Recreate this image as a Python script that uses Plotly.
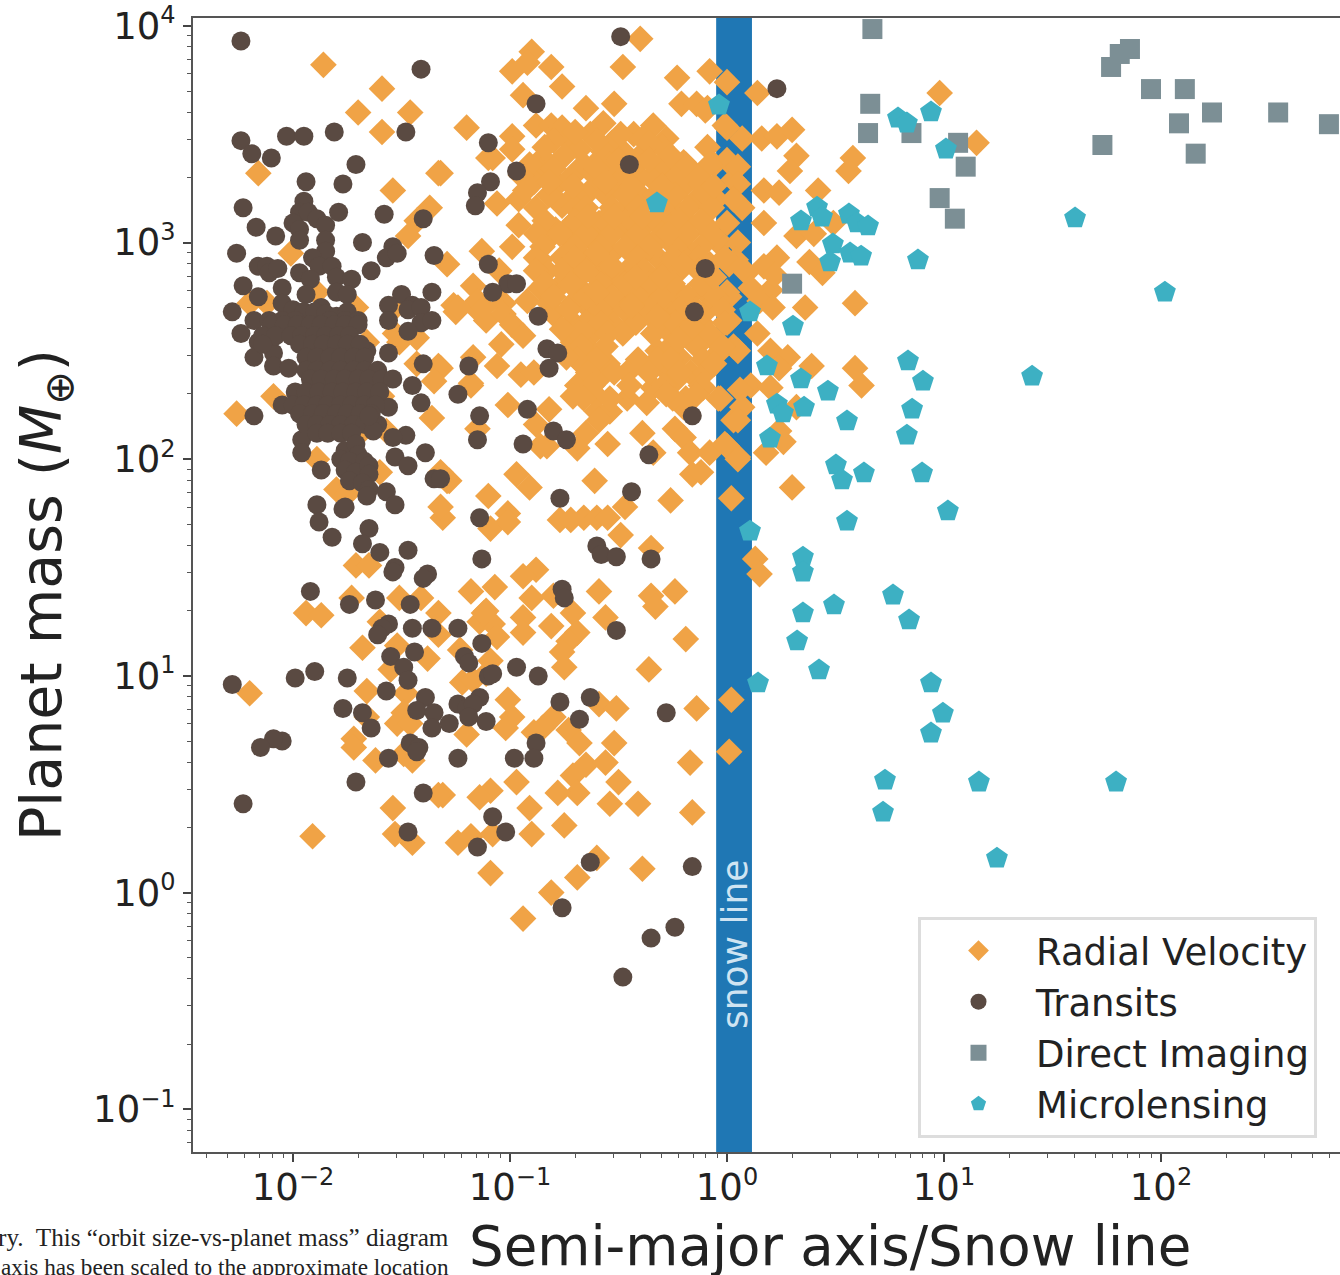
import plotly.graph_objects as go

# All values are log10(semi-major axis / snow line), log10(planet mass).
direct_imaging = [(0.67,3.985),(0.66,3.64),(0.65,3.505),(0.85,3.505),(1.065,3.46),(1.10,3.35),(0.98,3.205),(1.05,3.11),
 (0.30,2.81),(1.73,3.45),(1.77,3.81),(1.81,3.87),(1.857,3.893),(1.954,3.708),(2.11,3.708),(2.083,3.55),(2.235,3.60),
 (2.16,3.41),(2.54,3.60),(2.774,3.546)]

microlensing = [(-0.037,3.634),(0.788,3.574),(0.829,3.551),(0.94,3.602),(1.009,3.431),(0.415,3.163),(0.438,3.117),(0.341,3.099),
 (0.562,3.131),(0.599,3.09),(0.65,3.076),(0.488,2.993),(0.475,2.91),(0.567,2.951),(0.618,2.937),(0.88,2.919),(0.106,2.679),
 (-0.323,3.182),(1.604,3.113),(2.018,2.771),(1.406,2.383),(0.304,2.614),(0.834,2.453),(0.903,2.36),(0.184,2.43),(0.341,2.37),
 (0.465,2.314),(0.23,2.254),(0.258,2.213),(0.355,2.24),(0.853,2.231),(0.553,2.176),(0.829,2.111),(0.198,2.097),(0.502,1.973),
 (0.53,1.904),(0.631,1.936),(0.899,1.936),(1.018,1.761),(0.553,1.714),(0.106,1.668),(0.35,1.548),(0.35,1.479),(0.765,1.373),
 (0.493,1.327),(0.35,1.29),(0.839,1.258),(0.323,1.161),(0.424,1.027),(0.143,0.967),(0.94,0.967),(0.995,0.828),(0.94,0.736),
 (0.728,0.519),(1.161,0.51),(1.793,0.51),(0.719,0.371),(1.244,0.159)]

transits = [(-2.24,3.93),(-1.41,3.80),(-1.81,3.51),(-2.03,3.49),(-1.95,3.49),(-2.24,3.47),(-1.48,3.51),(-2.19,3.41),(-2.10,3.39),
 (-1.71,3.36),(-1.94,3.28),(-1.77,3.27),(-2.23,3.16),(-1.95,3.19),(-1.79,3.14),(-1.58,3.13),(-1.40,3.11),(-2.17,3.07),(-1.97,3.14),
 (-2.00,3.09),(-1.93,3.14),(-1.89,3.11),(-1.85,3.08),(-1.97,3.06),(-1.97,3.01),(-2.08,3.03),(-1.68,3.00),(-1.85,3.01),(-1.85,2.96),
 (-2.26,2.95),(-1.54,2.98),(-1.57,2.93),(-1.52,2.95),(-1.35,2.94),(-2.16,2.89),(-2.12,2.89),(-2.11,2.86),(-2.07,2.88),(-1.97,2.86),
 (-1.91,2.93),(-1.88,2.89),(-1.82,2.89),(-1.80,2.84),(-1.92,2.83),(-1.64,2.87),(-1.73,2.83),(-2.23,2.80),(-2.05,2.79),(-2.16,2.75),
 (-1.94,2.76),(-1.80,2.77),(-1.75,2.76),(-1.50,2.76),(-1.36,2.77),(-1.56,2.71),(-1.45,2.71),(-1.87,2.70),(-2.28,2.68),(-2.05,2.72),
 (-2.18,2.64),(-2.24,2.58),(-2.16,2.54),(-2.18,2.47),(-2.09,2.49),(-2.09,2.43),(-2.02,2.42),(-1.56,2.64),(-1.47,2.69),(-1.41,2.70),
 (-1.41,2.63),(-1.36,2.64),(-1.47,2.59),(-1.66,2.50),(-1.56,2.49),(-1.40,2.44),(-1.19,2.43),(-1.45,2.34),(-1.24,2.30),(-1.56,2.24),
 (-1.41,2.26),(-2.05,2.25),(-2.18,2.20),(-1.14,2.20),(-1.15,2.09),(-1.48,2.11),(-1.54,2.10),(-1.39,2.03),(-1.53,2.01),(-1.47,1.97),
 (-1.35,1.91),(-1.87,1.95),(-1.96,2.09),(-1.96,2.03),(-1.14,1.73),(-1.13,1.54),(-1.89,1.79),(-1.77,1.77),(-1.76,1.78),(-1.88,1.71),
 (-1.82,1.64),(-1.65,1.68),(-1.68,1.61),(-1.60,1.57),(-1.47,1.58),(-1.53,1.50),(-1.54,1.48),(-1.38,1.47),(-1.40,1.45),(-1.92,1.39),
 (-2.00,2.69),(-1.95,2.68),(-1.90,2.68),(-1.85,2.67),(-1.80,2.66),(-1.75,2.68),(-2.07,2.60),(-2.00,2.60),(-1.93,2.60),(-1.86,2.60),
 (-2.11,2.64),(-2.05,2.64),(-1.99,2.64),(-1.83,2.64),(-1.76,2.64),(-1.70,2.64),
 (-2.10,2.62),(-2.04,2.62),(-1.98,2.62),(-1.92,2.62),(-1.87,2.62),(-1.81,2.62),(-1.76,2.62),(-1.70,2.62),
 (-2.14,2.57),(-2.08,2.57),(-2.01,2.57),(-1.96,2.57),(-1.90,2.57),(-1.85,2.57),(-1.79,2.57),(-1.74,2.57),
 (-2.14,2.53),(-1.97,2.53),(-1.91,2.53),(-1.86,2.53),(-1.80,2.53),(-1.75,2.53),(-1.69,2.53),
 (-1.94,2.47),(-1.89,2.47),(-1.83,2.47),(-1.78,2.47),(-1.72,2.47),(-1.67,2.47),
 (-1.94,2.41),(-1.89,2.41),(-1.83,2.41),(-1.78,2.41),(-1.72,2.41),(-1.67,2.41),(-1.61,2.41),
 (-1.92,2.37),(-1.87,2.37),(-1.81,2.37),(-1.76,2.37),(-1.70,2.37),(-1.65,2.37),(-1.59,2.37),(-1.54,2.37),
 (-1.99,2.31),(-1.94,2.31),(-1.88,2.31),(-1.82,2.31),(-1.77,2.31),(-1.71,2.31),(-1.66,2.31),(-1.60,2.31),
 (-2.00,2.25),(-1.95,2.25),(-1.89,2.25),(-1.84,2.25),(-1.78,2.25),(-1.73,2.25),(-1.67,2.25),(-1.62,2.25),
 (-1.97,2.21),(-1.91,2.21),(-1.86,2.21),(-1.80,2.21),(-1.75,2.21),(-1.69,2.21),(-1.64,2.21),
 (-1.94,2.16),(-1.89,2.16),(-1.83,2.16),(-1.78,2.16),(-1.72,2.16),(-1.67,2.16),(-1.61,2.16),
 (-1.89,2.12),(-1.84,2.12),(-1.78,2.12),(-1.73,2.12),
 (-1.76,2.04),(-1.71,2.07),(-1.70,2.02),(-1.78,2.00),(-1.74,1.99),(-1.67,1.99),(-1.76,1.95),(-1.71,1.94),(-1.65,1.97),(-1.65,1.93),
 (-1.74,1.90),(-1.68,1.89),(-1.65,1.86),(-1.66,1.83),(-1.57,1.85),(-1.53,1.79),(-1.63,2.13),(-1.65,2.20),
 (-1.74,1.33),(-1.62,1.35),(-1.46,1.33),(-1.56,1.24),(-1.59,1.22),(-1.61,1.19),(-1.45,1.22),(-1.36,1.22),(-1.24,1.22),(-1.13,1.15),
 (-1.55,1.09),(-1.44,1.11),(-1.49,1.04),(-1.47,0.98),(-1.21,1.09),(-1.19,1.06),(-1.90,1.02),(-1.99,0.99),(-1.75,0.99),(-2.28,0.96),
 (-1.57,0.93),(-1.10,1.00),(-1.14,0.90),(-1.39,0.90),(-1.24,0.87),(-1.20,0.85),(-1.17,0.87),(-1.43,0.84),(-1.35,0.83),(-1.77,0.85),
 (-1.68,0.83),(-1.19,0.81),(-1.11,0.79),(-1.28,0.78),(-1.36,0.76),(-1.64,0.76),(-1.46,0.69),(-1.42,0.67),(-1.43,0.65),(-1.56,0.62),
 (-1.24,0.62),(-1.71,0.51),(-1.40,0.46),(-2.05,0.70),(-2.09,0.71),(-2.15,0.67),(-2.23,0.41),(-1.47,0.28),(-1.15,0.21),(-1.08,0.35),
 (-0.76,1.40),(-0.75,1.36),(-0.51,1.21),(-0.97,1.04),(-0.87,1.00),(-1.08,1.01),(-0.77,0.88),(-0.63,0.90),(-0.68,0.80),(-0.28,0.83),
 (-0.88,0.69),(-0.98,0.62),(-0.89,0.62),(-1.02,0.28),(-0.63,0.14),(-0.16,0.12),(-0.76,-0.07),(-0.35,-0.21),(-0.24,-0.16),(-0.48,-0.39),
 (-0.87,2.66),(-0.15,2.68),(-0.83,2.51),(-0.78,2.49),(-0.82,2.42),(-0.92,2.23),(-0.94,2.07),(-0.80,2.13),(-0.74,2.09),(-0.16,2.20),
 (-0.36,2.02),(-1.32,1.91),(-0.44,1.85),(-0.77,1.82),(-0.60,1.60),(-0.58,1.56),(-0.51,1.55),(-0.35,1.54),
 (-0.49,3.95),(-0.88,3.64),(-1.10,3.46),(-0.97,3.33),(-0.45,3.36),(-1.09,3.28),(-1.15,3.23),(-1.16,3.17),(-0.10,2.88),(-1.10,2.90),
 (-1.01,2.81),(-0.97,2.81),(-1.08,2.77),(0.23,3.71)]

radial_velocity = [(-0.40,3.94),(-0.90,3.88),(-0.92,3.83),(-0.99,3.79),(-0.81,3.81),(-0.76,3.72),(-0.48,3.81),(-0.23,3.76),(-0.08,3.79),
 (0.00,3.74),(-0.94,3.68),(-0.21,3.64),(-0.14,3.64),(-0.09,3.62),(-1.20,3.53),(-0.65,3.62),(-0.52,3.64),(-0.88,3.54),(-0.81,3.54),
 (-0.76,3.53),(-0.57,3.55),(-0.99,3.49),(-0.34,3.54),(-0.43,3.50),(-0.28,3.48),(-0.72,3.46),(-0.63,3.50),(-0.53,3.46),(-0.39,3.48),
 (-0.99,3.43),(-1.08,3.39),(-0.85,3.39),(-0.09,3.44),(0.00,3.53),(-0.20,3.37),(-0.59,3.38),(-0.69,3.33),(-0.86,3.33),(-0.48,3.32),
 (-0.25,3.32),(-0.16,3.32),(-0.06,3.36),(0.00,3.38),(-1.32,3.32),(-0.78,3.27),(-0.63,3.24),(-0.51,3.26),(-0.40,3.30),(-0.20,3.26),
 (-0.12,3.27),(0.03,3.29),(-1.06,3.18),(-0.96,3.20),(-0.89,3.28),(-0.76,3.17),(-0.46,3.16),(-0.25,3.16),(-0.14,3.20),(-0.39,3.21),
 (-0.05,3.20),(-0.96,3.08),(-0.59,3.09),(-0.48,3.07),(-0.37,3.09),(-0.28,3.09),(-0.18,3.09),(-0.09,3.07),(0.00,3.09),(-0.71,3.09),
 (-0.79,3.06),(-0.43,3.00),(-0.32,3.01),(-0.22,3.00),(-0.03,3.00),(0.05,3.00),(-1.13,2.96),(-0.99,2.98),(-0.83,3.01),(-0.72,3.01),
 (-0.62,3.01),(-0.86,2.92),(-0.76,2.93),(-0.65,2.92),(-0.53,2.95),(-0.46,2.87),(-0.32,2.93),(-0.17,2.95),(-0.08,2.90),(0.01,2.90),
 (-1.29,2.90),(-1.05,2.87),(-0.83,2.87),(-0.71,2.86),(-0.60,2.84),(-0.49,2.83),(-0.28,2.87),(-1.17,2.80),(-0.86,2.79),(-0.78,2.79),
 (-0.68,2.79),(-0.45,2.77),(-0.32,2.77),(-0.22,2.77),(-0.11,2.78),(0.00,2.77),(-0.92,2.73),(-1.03,2.72),(-1.26,2.71),(-1.14,2.72),
 (-0.82,2.72),(-0.71,2.72),(-0.59,2.72),(-0.49,2.73),(-0.39,2.72),(-0.25,2.72),
 (-1.25,2.68),(-1.15,2.69),(-1.11,2.64),(-1.03,2.67),(-0.99,2.62),(-0.94,2.57),(-0.80,2.67),(-0.71,2.63),(-0.63,2.69),(-0.53,2.69),
 (-0.41,2.66),(-0.28,2.69),(-0.18,2.64),(-0.09,2.69),(-0.62,2.58),(-0.53,2.63),(-0.26,2.58),(-0.16,2.55),(-0.05,2.54),(0.01,2.64),
 (-1.04,2.53),(-0.71,2.54),(-0.63,2.50),(-0.32,2.50),(-0.22,2.47),(0.03,2.52),(-1.06,2.43),(-1.17,2.47),(-1.32,2.42),(-0.95,2.39),
 (-0.89,2.40),(-0.66,2.43),(-0.55,2.44),(-0.41,2.46),(-0.28,2.41),(-0.17,2.40),(-0.69,2.34),(-0.59,2.37),(-0.46,2.40),(-0.34,2.33),
 (-0.23,2.37),(-0.03,2.28),(-1.18,2.34),(-0.71,2.29),(-0.60,2.29),(-0.46,2.28),(-0.37,2.26),(-1.01,2.25),(-0.82,2.23),(-0.60,2.22),
 (-0.54,2.22),(-0.20,2.24),(-0.88,2.16),(-0.59,2.18),(-0.24,2.14),(-0.65,2.12),(-1.15,2.14),(-0.39,2.12),(-0.20,2.10),(-0.83,2.06),
 (-0.55,2.07),(-0.69,2.05),(-0.86,2.06),(-0.34,2.03),(-0.17,2.03),(-0.08,2.03),(0.00,2.06),(0.05,2.01),(-0.16,1.93),(-0.61,1.90),
 (-1.29,1.90),(-0.97,1.93),(-0.91,1.87),(-1.10,1.83),(-0.26,1.81),(-0.47,1.78),(-1.01,1.75),(-0.77,1.72),(-0.72,1.72),(-0.66,1.73),
 (-0.60,1.73),(-0.55,1.73),(-1.09,1.68),(-1.01,1.71),(-0.49,1.65),(-0.35,1.59),(-0.88,1.49),(-0.94,1.46),(0.03,2.18),(0.02,1.82),
 (-1.31,1.73),(-1.32,1.78),
 (-1.18,1.39),(-1.07,1.41),(-0.90,1.36),(-0.80,1.37),(-0.59,1.39),(-0.35,1.37),(-0.33,1.32),(-0.24,1.39),(-0.71,1.29),(-0.56,1.27),
 (-1.11,1.30),(-1.14,1.25),(-1.08,1.24),(-1.06,1.18),(-0.94,1.27),(-0.94,1.20),(-0.81,1.23),(-0.69,1.20),(-0.73,1.16),(-0.76,1.11),
 (-0.19,1.17),(-0.75,1.04),(-0.36,1.03),(-1.23,1.12),(-1.09,1.07),(-1.22,0.97),(-1.17,0.98),(-1.11,1.01),(-1.01,0.89),(-0.99,0.81),
 (-1.02,0.76),(-0.59,0.87),(-0.51,0.85),(-0.14,0.85),(0.02,0.89),(-0.80,0.81),(-0.85,0.76),(-0.89,0.74),(-0.73,0.75),(-0.68,0.69),
 (-1.20,0.73),(-0.52,0.69),(0.01,0.65),(-0.17,0.60),(-0.65,0.59),(-0.71,0.54),(-0.56,0.60),(-0.97,0.51),(-0.50,0.51),(-0.69,0.46),
 (-0.78,0.46),(-1.31,0.45),(-1.09,0.47),(-1.14,0.44),(-0.91,0.39),(-0.54,0.41),(-0.41,0.41),(-0.16,0.37),(-0.75,0.31),(-0.90,0.27),
 (-1.24,0.23),(-1.18,0.26),(-1.08,0.27),(-0.60,0.16),(-0.39,0.11),(-0.69,0.07),(-1.09,0.09),(-0.81,0.00),(-0.94,-0.12),
 (-1.73,1.36),(-1.94,1.29),(-1.87,1.28),(-1.51,1.36),(-1.41,1.36),(-1.33,1.29),(-1.12,1.29),(-1.60,1.25),(-1.52,1.14),(-1.68,1.13),
 (-1.38,1.08),(-1.55,1.03),(-1.66,0.93),(-1.48,0.92),(-2.20,0.92),(-1.49,0.83),(-1.52,0.78),(-1.46,0.78),(-1.33,1.19),(-1.66,0.81),
 (-1.72,0.71),(-1.72,0.67),(-1.62,0.61),(-1.49,0.64),(-1.45,0.61),(-1.54,0.39),(-1.33,0.45),(-1.53,0.27),(-1.45,0.23),(-1.91,0.26),
 (-2.26,2.21),(-2.09,2.29),(-2.20,2.72),(-2.12,2.72),(-1.71,2.70),(-1.66,2.54),(-1.53,2.58),(-1.51,2.54),(-1.43,2.56),(-1.43,2.44),
 (-1.33,2.43),(-1.35,2.36),(-1.18,2.35),(-1.59,2.29),(-1.36,2.19),(-1.68,2.13),(-1.57,2.13),(-1.89,2.00),(-1.60,1.94),(-1.28,1.90),
 (-1.32,1.94),(-1.80,1.86),(-1.75,1.84),(-1.71,1.51),(-1.65,1.51),
 (-1.86,3.82),(-1.59,3.71),(-1.70,3.60),(-1.46,3.60),(-1.59,3.51),(-2.16,3.32),(-1.33,3.32),(-1.54,3.24),(-1.37,3.16),(-1.43,3.10),
 (-1.47,3.03),(-2.01,2.95),(-1.10,3.39),(-1.24,2.70),(-1.15,2.73),(-1.12,2.70),(-1.89,2.77),(-1.52,2.71),
 (0.14,3.69),(0.98,3.69),(-0.10,3.61),(-0.01,3.54),(0.07,3.48),(0.16,3.48),(0.23,3.49),(0.30,3.52),(1.15,3.46),(0.32,3.40),(0.29,3.33),
 (0.58,3.39),(0.56,3.33),(0.05,3.35),(0.05,3.27),(0.17,3.24),(0.24,3.23),(0.42,3.24),(0.07,3.16),(0.03,3.20),(0.17,3.09),(0.32,3.03),
 (0.40,3.04),(0.49,3.09),(-0.05,3.01),(0.23,2.93),(0.17,2.89),(0.38,2.91),(0.44,2.86),(0.04,2.92),(0.09,2.86),(0.20,2.78),(0.11,2.79),
 (0.01,2.75),(0.36,2.70),(0.59,2.72),(0.22,2.85),(0.15,2.73),
 (0.21,2.70),(0.14,2.58),(0.00,2.63),(0.05,2.50),(-0.05,2.48),(0.20,2.50),(0.28,2.47),(0.24,2.42),(0.39,2.43),(0.59,2.42),(0.62,2.34),
 (0.11,2.34),(0.20,2.33),(0.06,2.32),(-0.04,2.28),(0.07,2.24),(0.05,2.18),(0.32,2.24),(0.24,2.13),(0.26,2.08),(0.18,2.03),(-0.01,2.07),
 (0.05,2.00),(-0.12,1.94),(0.30,1.87),(0.13,1.54),(0.15,1.47),(-0.11,2.33),
 # crowded core
 (-0.80,3.47),(-0.68,3.43),(-0.57,3.42),(-0.47,3.41),(-0.38,3.42),(-0.30,3.44),(-0.75,3.40),(-0.91,3.36),(-0.95,3.31),(-0.93,3.24),
 (-0.66,3.36),(-0.54,3.36),(-0.42,3.36),(-0.30,3.36),(-0.19,3.36),(-0.08,3.36),
 (-0.72,3.30),(-0.60,3.30),(-0.48,3.30),(-0.35,3.30),(-0.24,3.30),(-0.13,3.30),
 (-0.82,3.22),(-0.70,3.22),(-0.56,3.22),(-0.47,3.22),(-0.33,3.22),(-0.24,3.22),(-0.10,3.22),
 (-0.88,3.16),(-0.70,3.16),(-0.65,3.16),(-0.53,3.16),(-0.41,3.16),(-0.30,3.16),(-0.18,3.16),(-0.07,3.16),
 (-0.84,3.10),(-0.70,3.10),(-0.57,3.10),(-0.44,3.10),(-0.33,3.10),(-0.22,3.10),(-0.12,3.10),
 (-0.88,3.04),(-0.77,3.04),(-0.65,3.04),(-0.53,3.04),(-0.41,3.04),(-0.30,3.04),(-0.18,3.04),(-0.07,3.04),
 (-0.85,2.98),(-0.70,2.98),(-0.58,2.98),(-0.47,2.98),(-0.36,2.98),(-0.24,2.98),(-0.12,2.98),
 (-0.88,2.93),(-0.70,2.93),(-0.59,2.93),(-0.41,2.93),(-0.25,2.93),(-0.13,2.93),(-0.01,2.93),
 (-0.88,2.87),(-0.76,2.87),(-0.65,2.87),(-0.53,2.87),(-0.38,2.87),(-0.22,2.87),(-0.13,2.87),
 (-0.84,2.81),(-0.72,2.81),(-0.58,2.81),(-0.47,2.81),(-0.36,2.81),(-0.25,2.81),(-0.12,2.81),
 (-0.80,2.75),(-0.65,2.75),(-0.53,2.75),(-0.41,2.75),(-0.30,2.75),(-0.18,2.75),(-0.05,2.75),
 (-0.73,2.69),(-0.58,2.69),(-0.47,2.69),(-0.36,2.69),(-0.22,2.69),(-0.14,2.69),(-0.02,2.69),
 (-0.65,2.63),(-0.58,2.63),(-0.42,2.63),(-0.32,2.63),(-0.24,2.63),(-0.12,2.63),(-0.01,2.63),
 (-0.71,2.58),(-0.68,2.58),(-0.55,2.58),(-0.34,2.58),(-0.20,2.58),(-0.08,2.58),
 (-0.67,2.52),(-0.56,2.52),(-0.26,2.52),(-0.14,2.52),(-0.02,2.52),
 (-0.69,2.46),(-0.60,2.46),(-0.32,2.46),(-0.26,2.46),(-0.11,2.46),
 (-0.64,2.40),(-0.52,2.40),(-0.36,2.40),(-0.22,2.40),(-0.10,2.40),
 (-0.62,2.34),(-0.45,2.34),(-0.29,2.34),(-0.12,2.34),
 (-0.66,2.28),(-0.54,2.28),(-0.25,2.28),(-0.19,2.28),
 (-0.70,3.51),(-0.60,3.47),(-0.49,3.50),(-0.36,3.46),(-0.84,3.44),(-0.80,3.34),(-0.60,3.34),(-0.50,3.38),(-0.36,3.38),(-0.26,3.40),
 (-0.82,3.28),(-0.71,3.26),(-0.56,3.28),(-0.44,3.26),(-0.30,3.26),(-0.06,3.26),(-0.64,3.12),(-0.52,3.12),(-0.39,3.12),(-0.27,3.04),
 (-0.60,2.95),(-0.53,2.89),(-0.42,2.84),(-0.30,2.84),(-0.20,2.90),(-0.06,2.84),(-0.60,2.77),(-0.44,2.71),(-0.32,2.66),(-0.16,2.61),
 (-0.48,2.58),(-0.76,2.60),(-0.74,2.47),(-0.22,2.55),(-0.06,2.44),(-0.28,2.30),(-0.14,2.30)]

snow_line_band = (-0.05, 0.115)

series_names = ["Radial Velocity", "Transits", "Direct Imaging", "Microlensing"]
tick_exponents = [-2, -1, 0, 1, 2]
y_tick_exponents = [-1, 0, 1, 2, 3, 4]
caption_lines = ["ry.  This “orbit size-vs-planet mass” diagram", "axis has been scaled to the approximate location"]

W, H = 1340, 1275
L, R, T, B = 193, 1340, 18, 1152
def px(x): return (x - L) / (R - L)
def py(y): return (B - y) / (B - T)
def power(e):
    s = str(e).replace("-", "\u2212")
    return f"10<sup><span style='font-size:24px'>{s}</span></sup>"

FONT = "DejaVu Sans"
fig = go.Figure()
styles = [
    (radial_velocity, "diamond", 20.5, "#F0A346"),
    (transits, "circle", 19, "#5A4A42"),
    (direct_imaging, "square", 20, "#7C8F95"),
    (microlensing, "pentagon", 23, "#3DB0C3"),
]
for name, (pts, sym, size, col) in zip(series_names, styles):
    fig.add_trace(go.Scatter(
        x=[10 ** p[0] for p in pts], y=[10 ** p[1] for p in pts],
        mode="markers", name=name, cliponaxis=True,
        marker=dict(symbol=sym, size=size, color=col, line=dict(width=0)),
    ))

axis_common = dict(
    type="log", showgrid=False, zeroline=False,
    showline=True, linecolor="#555555", linewidth=2, ticks="outside", ticklen=8, tickwidth=1.5,
    tickcolor="#444444", tickfont=dict(family=FONT, size=37, color="#222222"),
    minor=dict(ticks="outside", ticklen=4, tickwidth=1, tickcolor="#555555", dtick="D1", showgrid=False),
)
fig.update_xaxes(range=[-2.461, 2.825], mirror=True,
                 tickmode="array", tickvals=[10.0 ** e for e in tick_exponents],
                 ticktext=[power(e) for e in tick_exponents], ticklabelstandoff=-6, **axis_common)
fig.update_yaxes(range=[-1.197, 4.036],
                 tickmode="array", tickvals=[10.0 ** e for e in y_tick_exponents],
                 ticktext=[power(e) for e in y_tick_exponents], **axis_common)

fig.add_shape(type="rect", xref="x", yref="paper",
              x0=10 ** snow_line_band[0], x1=10 ** snow_line_band[1], y0=0, y1=1,
              fillcolor="#1F77B4", line=dict(width=0), layer="below")

ann = [
    dict(text="Semi-major axis/Snow line", x=px(830), y=py(1246), font=dict(family=FONT, size=54.6, color="#222222")),
    dict(text="Planet mass (<i>M</i><sub>⊕</sub>)", x=px(45), y=py(595), textangle=-90,
         font=dict(family=FONT, size=57, color="#222222")),
    dict(text="snow line", x=px(734), y=py(945), textangle=-90, font=dict(family=FONT, size=36, color="#CFE4F2")),
    dict(text=caption_lines[0], x=px(451), y=py(1237), xanchor="right",
         font=dict(family="Liberation Serif", size=25.2, color="#222222")),
    dict(text=caption_lines[1], x=px(451), y=py(1267), xanchor="right",
         font=dict(family="Liberation Serif", size=23.2, color="#222222")),
]
for a in ann:
    a.setdefault("xanchor", "center")
    fig.add_annotation(xref="paper", yref="paper", yanchor="middle", showarrow=False, **a)

fig.update_layout(
    width=W, height=H, margin=dict(l=L, r=W - R, t=T, b=H - B),
    paper_bgcolor="white", plot_bgcolor="white", showlegend=True,
    font=dict(family=FONT),
    legend=dict(x=px(918), y=py(917), xanchor="left", yanchor="top", bgcolor="white",
                bordercolor="#DDDDDD", borderwidth=3, itemwidth=105, entrywidth=301, entrywidthmode="pixels",
                font=dict(family=FONT, size=37, color="#222222"), traceorder="normal"),
)
fig.write_html("out.html", config={"displayModeBar": False},
               post_script="document.body.style.margin='0';document.documentElement.style.overflow='hidden';")
